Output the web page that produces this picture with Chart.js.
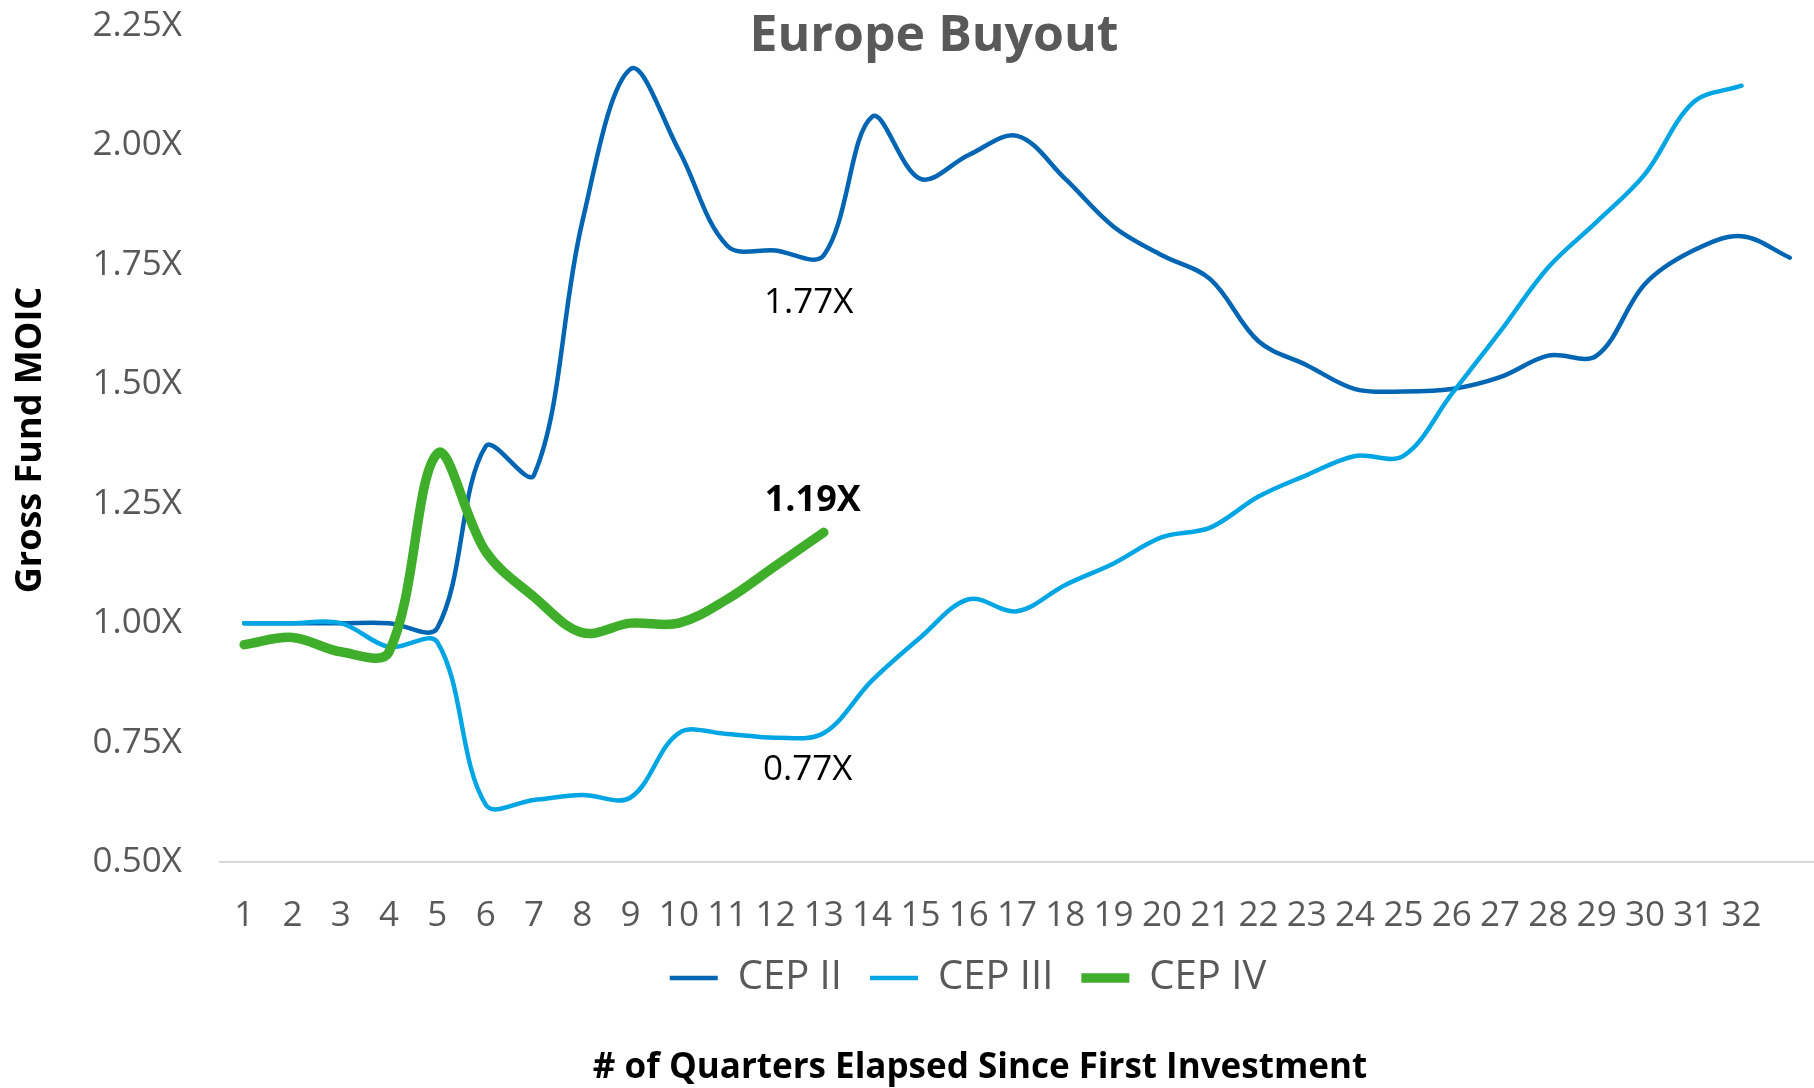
<!DOCTYPE html>
<html>
<head>
<meta charset="utf-8">
<script src="https://cdn.jsdelivr.net/npm/chart.js@4/dist/chart.umd.min.js"></script>
<style>
  html, body { margin: 0; padding: 0; background: #ffffff; }
  #wrap { width: 1814px; height: 1088px; position: relative; }
</style>
</head>
<body>
<div id="wrap"><canvas id="c" width="1814" height="1088"></canvas></div>
<script>
// ---------- data ----------
const chartTitle = 'Europe Buyout';
const yAxisTitle = 'Gross Fund MOIC';
const xAxisTitle = '# of Quarters Elapsed Since First Investment';
const quarters = ['1','2','3','4','5','6','7','8','9','10','11','12','13','14','15','16',
                  '17','18','19','20','21','22','23','24','25','26','27','28','29','30','31','32',''];
const seriesNames = ['CEP II', 'CEP III', 'CEP IV'];
const cepII  = [1.00, 1.00, 1.00, 1.00, 0.99, 1.37, 1.31, 1.84, 2.16, 1.99, 1.79, 1.78, 1.77,
                2.06, 1.93, 1.98, 2.02, 1.93, 1.83, 1.77, 1.72, 1.59, 1.54, 1.49, 1.485, 1.49,
                1.515, 1.56, 1.56, 1.71, 1.78, 1.81, 1.765];
const cepIII = [1.00, 1.00, 1.00, 0.95, 0.96, 0.62, 0.63, 0.64, 0.635, 0.77, 0.768, 0.76, 0.77,
                0.88, 0.97, 1.05, 1.025, 1.08, 1.125, 1.18, 1.20, 1.265, 1.31, 1.35, 1.35, 1.48,
                1.61, 1.745, 1.84, 1.94, 2.09, 2.125, null];
const cepIV  = [0.955, 0.97, 0.94, 0.94, 1.355, 1.15, 1.055, 0.98, 1.00, 1.00, 1.05, 1.12, 1.19];
const yTicks = [0.50, 0.75, 1.00, 1.25, 1.50, 1.75, 2.00, 2.25];
const labelIndex = 12; // quarter 13

// ---------- styles ----------
const FONT = '"Open Sans", "Noto Sans", sans-serif';
const GREY = '#595959';
const colors = ['#0066B3', '#00A5E3', '#3FAE2A'];

const annotationsPlugin = {
  id: 'annotations',
  beforeDraw(chart) {
    // centre the legend row like the reference
    if (chart.legend) { chart.legend.left = 122; }
  },
  afterDraw(chart) {
    const ctx = chart.ctx;
    const xs = chart.scales.x, ys = chart.scales.y;
    ctx.save();
    // title
    ctx.fillStyle = GREY;
    ctx.font = 'bold 50px ' + FONT;
    ctx.textAlign = 'center';
    ctx.textBaseline = 'alphabetic';
    ctx.fillText(chartTitle, 934, 51);

    // x axis title
    ctx.fillStyle = '#000000';
    ctx.font = 'bold 35px ' + FONT;
    ctx.textBaseline = 'middle';
    ctx.fillText(xAxisTitle, 980, 1068);

    // y axis title
    ctx.save();
    ctx.font = 'bold 36px ' + FONT;
    ctx.translate(31, 440);
    ctx.rotate(-Math.PI / 2);
    ctx.fillText(yAxisTitle, 0, 0);
    ctx.restore();

    // value labels at quarter 13
    const px = xs.getPixelForValue(labelIndex);
    ctx.textAlign = 'center';
    ctx.textBaseline = 'middle';
    ctx.fillStyle = '#000000';
    ctx.font = '35px ' + FONT;
    ctx.fillText(cepII[labelIndex].toFixed(2) + 'X', px - 15, ys.getPixelForValue(cepII[labelIndex]) + 48);
    ctx.fillText(cepIII[labelIndex].toFixed(2) + 'X', px - 16, ys.getPixelForValue(cepIII[labelIndex]) + 37);
    ctx.font = 'bold 36px ' + FONT;
    ctx.fillText(cepIV[labelIndex].toFixed(2) + 'X', px - 11, ys.getPixelForValue(cepIV[labelIndex]) - 32);
    ctx.restore();
  }
};

const ds = (label, data, color, width, order) => ({
  label, data,
  borderColor: color, backgroundColor: color,
  borderWidth: width, borderCapStyle: 'round', borderJoinStyle: 'round',
  pointRadius: 0, pointHoverRadius: 0, pointStyle: 'line',
  tension: 0.35, fill: false, spanGaps: false, order
});

new Chart(document.getElementById('c'), {
  type: 'line',
  data: {
    labels: quarters,
    datasets: [
      ds(seriesNames[0], cepII, colors[0], 4.5, 3),
      ds(seriesNames[1], cepIII, colors[1], 4.5, 2),
      ds(seriesNames[2], cepIV, colors[2], 9.5, 1)
    ]
  },
  options: {
    responsive: false,
    animation: false,
    devicePixelRatio: 1,
    layout: { padding: { top: 26, right: 0, bottom: 80, left: 0 } },
    plugins: {
      title: { display: false },
      tooltip: { enabled: false },
      legend: {
        display: true,
        position: 'bottom',
        align: 'center',
        labels: {
          usePointStyle: true,
          pointStyleWidth: 48,
          padding: 28,
          color: GREY,
          font: { family: FONT, size: 40 },
          sort: (a, b) => a.datasetIndex - b.datasetIndex
        }
      }
    },
    scales: {
      x: {
        type: 'category',
        offset: true,
        afterFit: (scale) => { scale.height = 68; scale.paddingLeft = 0; scale.paddingRight = 0; },
        grid: { display: false, drawTicks: false },
        border: { display: true, color: '#D9D9D9', width: 2 },
        ticks: {
          color: GREY, padding: 33, maxRotation: 0, autoSkip: false,
          font: { family: FONT, size: 35 }
        }
      },
      y: {
        min: 0.5, max: 2.25,
        afterFit: (scale) => { scale.width = 220; scale.paddingTop = 0; scale.paddingBottom = 0; },
        afterBuildTicks: (scale) => { scale.ticks = yTicks.map(v => ({ value: v })); },
        grid: { display: false, drawTicks: false },
        border: { display: false },
        ticks: {
          color: GREY, padding: 38,
          font: { family: FONT, size: 35 },
          callback: (v) => Number(v).toFixed(2) + 'X'
        }
      }
    }
  },
  plugins: [annotationsPlugin]
});
</script>
</body>
</html>
